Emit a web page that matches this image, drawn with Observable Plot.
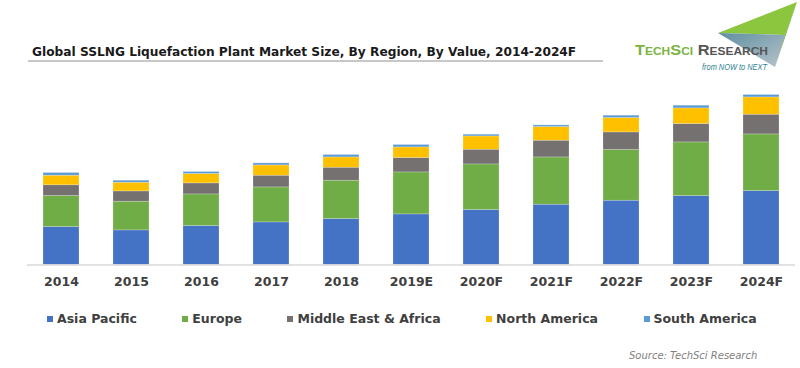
<!DOCTYPE html>
<html>
<head>
<meta charset="utf-8">
<script src="https://cdn.jsdelivr.net/npm/d3@7"></script>
<script src="https://cdn.jsdelivr.net/npm/@observablehq/plot@0.6"></script>
<style>
  html, body { margin: 0; padding: 0; background: #fff; }
  #page { position: relative; width: 800px; height: 368px; overflow: hidden; font-family: "DejaVu Sans", Verdana, sans-serif; }
  #title { position: absolute; left: 32px; top: 45.5px; font-size: 12.2px; line-height: 12.5px; font-weight: bold; color: #1a1a1a; white-space: nowrap; }
  #rule { position: absolute; left: 28px; top: 60px; width: 575px; height: 2px; background: #c8c8c8; }
  #chart { position: absolute; left: 0; top: 75px; }
  #legend { position: absolute; left: 47px; top: 313px; display: flex; gap: 45.5px; font-size: 12.5px; line-height: 12px; font-weight: bold; color: #404040; white-space: nowrap; }
  #legend .item { display: flex; align-items: center; }
  #legend .sw { width: 6px; height: 6px; margin-right: 4px; }
  #source { position: absolute; left: 629px; top: 349.5px; font-size: 10px; line-height: 11px; font-style: italic; color: #808080; white-space: nowrap; }
  #logo { position: absolute; left: 600px; top: 0; }
</style>
</head>
<body>
<div id="page">
  <svg id="logo" width="200" height="80" viewBox="0 0 200 80">
    <defs>
      <linearGradient id="lg" x1="0" y1="0" x2="1" y2="1">
        <stop offset="0" stop-color="#5f8fa0"/>
        <stop offset="1" stop-color="#b8c4cc"/>
      </linearGradient>
    </defs>
    <polygon points="118,33 197,2 185,35" fill="#8cc63e"/>
    <polygon points="118,33 185,35 175,67" fill="url(#lg)"/>
    <polygon points="185,35 197,2 175,67" fill="#6ea53a"/>
    <text x="35" y="55" font-family="Liberation Sans, Arial, sans-serif" font-size="15" font-weight="bold" style="font-variant: small-caps" textLength="133" lengthAdjust="spacingAndGlyphs"><tspan fill="#7cb342">TechSci</tspan><tspan fill="#555"> Research</tspan></text>
    <text x="102" y="70" font-family="Liberation Sans, Arial, sans-serif" font-size="9" font-style="italic" fill="#2a7f8f" textLength="65" lengthAdjust="spacingAndGlyphs">from NOW to NEXT</text>
  </svg>
  <div id="title">Global SSLNG Liquefaction Plant Market Size, By Region, By Value, 2014-2024F</div>
  <div id="rule"></div>
  <div id="chart"></div>
  <div id="legend"></div>
  <div id="source">Source: TechSci Research</div>
</div>
<script>
// ---- data (no y axis shown, relative units) ----
const years = ["2014","2015","2016","2017","2018","2019E","2020F","2021F","2022F","2023F","2024F"];
const regions = ["Asia Pacific","Europe","Middle East & Africa","North America","South America"];
const colors = ["#4472c4","#70ad47","#767171","#ffc000","#5b9bd5"];
const asiaPacific  = [38.0, 34.6, 39.0, 42.6, 46.0, 50.6, 55.0, 60.3, 64.3, 69.0, 74.0];
const europe       = [31.0, 28.7, 31.6, 35.0, 38.3, 42.0, 45.6, 47.3, 50.7, 53.6, 56.6];
const middleEast   = [10.7, 10.3, 11.0, 11.7, 13.0, 14.4, 14.7, 16.7, 17.6, 18.4, 19.7];
const northAmerica = [ 9.6,  8.7,  9.4, 10.3, 10.3, 10.6, 13.3, 13.7, 14.4, 15.6, 17.3];
const southAmerica = [ 2.7,  2.0,  2.0,  2.0,  2.4,  2.4,  1.7,  1.6,  2.3,  2.7,  2.4];

const series = [asiaPacific, europe, middleEast, northAmerica, southAmerica];
const data = [];
regions.forEach((r, i) => years.forEach((y, j) => data.push({year: y, region: r, value: series[i][j]})));

const chart = Plot.plot({
  width: 800,
  height: 230,
  marginLeft: 43,
  marginRight: 21,
  marginTop: 9.5,
  marginBottom: 40.5,
  style: {fontFamily: "DejaVu Sans, Verdana, sans-serif", background: "transparent"},
  x: {domain: years, paddingInner: 0.486, paddingOuter: 0, label: null},
  y: {domain: [0, 180], axis: null},
  color: {domain: regions, range: colors},
  marks: [
    Plot.barY(data, {x: "year", y: "value", fill: "region", stroke: "#ffffff", strokeOpacity: 0.35, strokeWidth: 0.6}),
    Plot.ruleY([0], {stroke: "#d9d9d9", strokeWidth: 1.5, insetLeft: -16, insetRight: -16}),
    Plot.axisX({tickSize: 0, tickPadding: 12, fontSize: 12.5, fontWeight: "bold", fill: "#404040", label: null})
  ]
});
document.getElementById("chart").appendChild(chart);

const legend = document.getElementById("legend");
regions.forEach((r, i) => {
  const item = document.createElement("div");
  item.className = "item";
  const sw = document.createElement("span");
  sw.className = "sw";
  sw.style.background = colors[i];
  const t = document.createElement("span");
  t.textContent = r;
  item.appendChild(sw);
  item.appendChild(t);
  legend.appendChild(item);
});
</script>
</body>
</html>
